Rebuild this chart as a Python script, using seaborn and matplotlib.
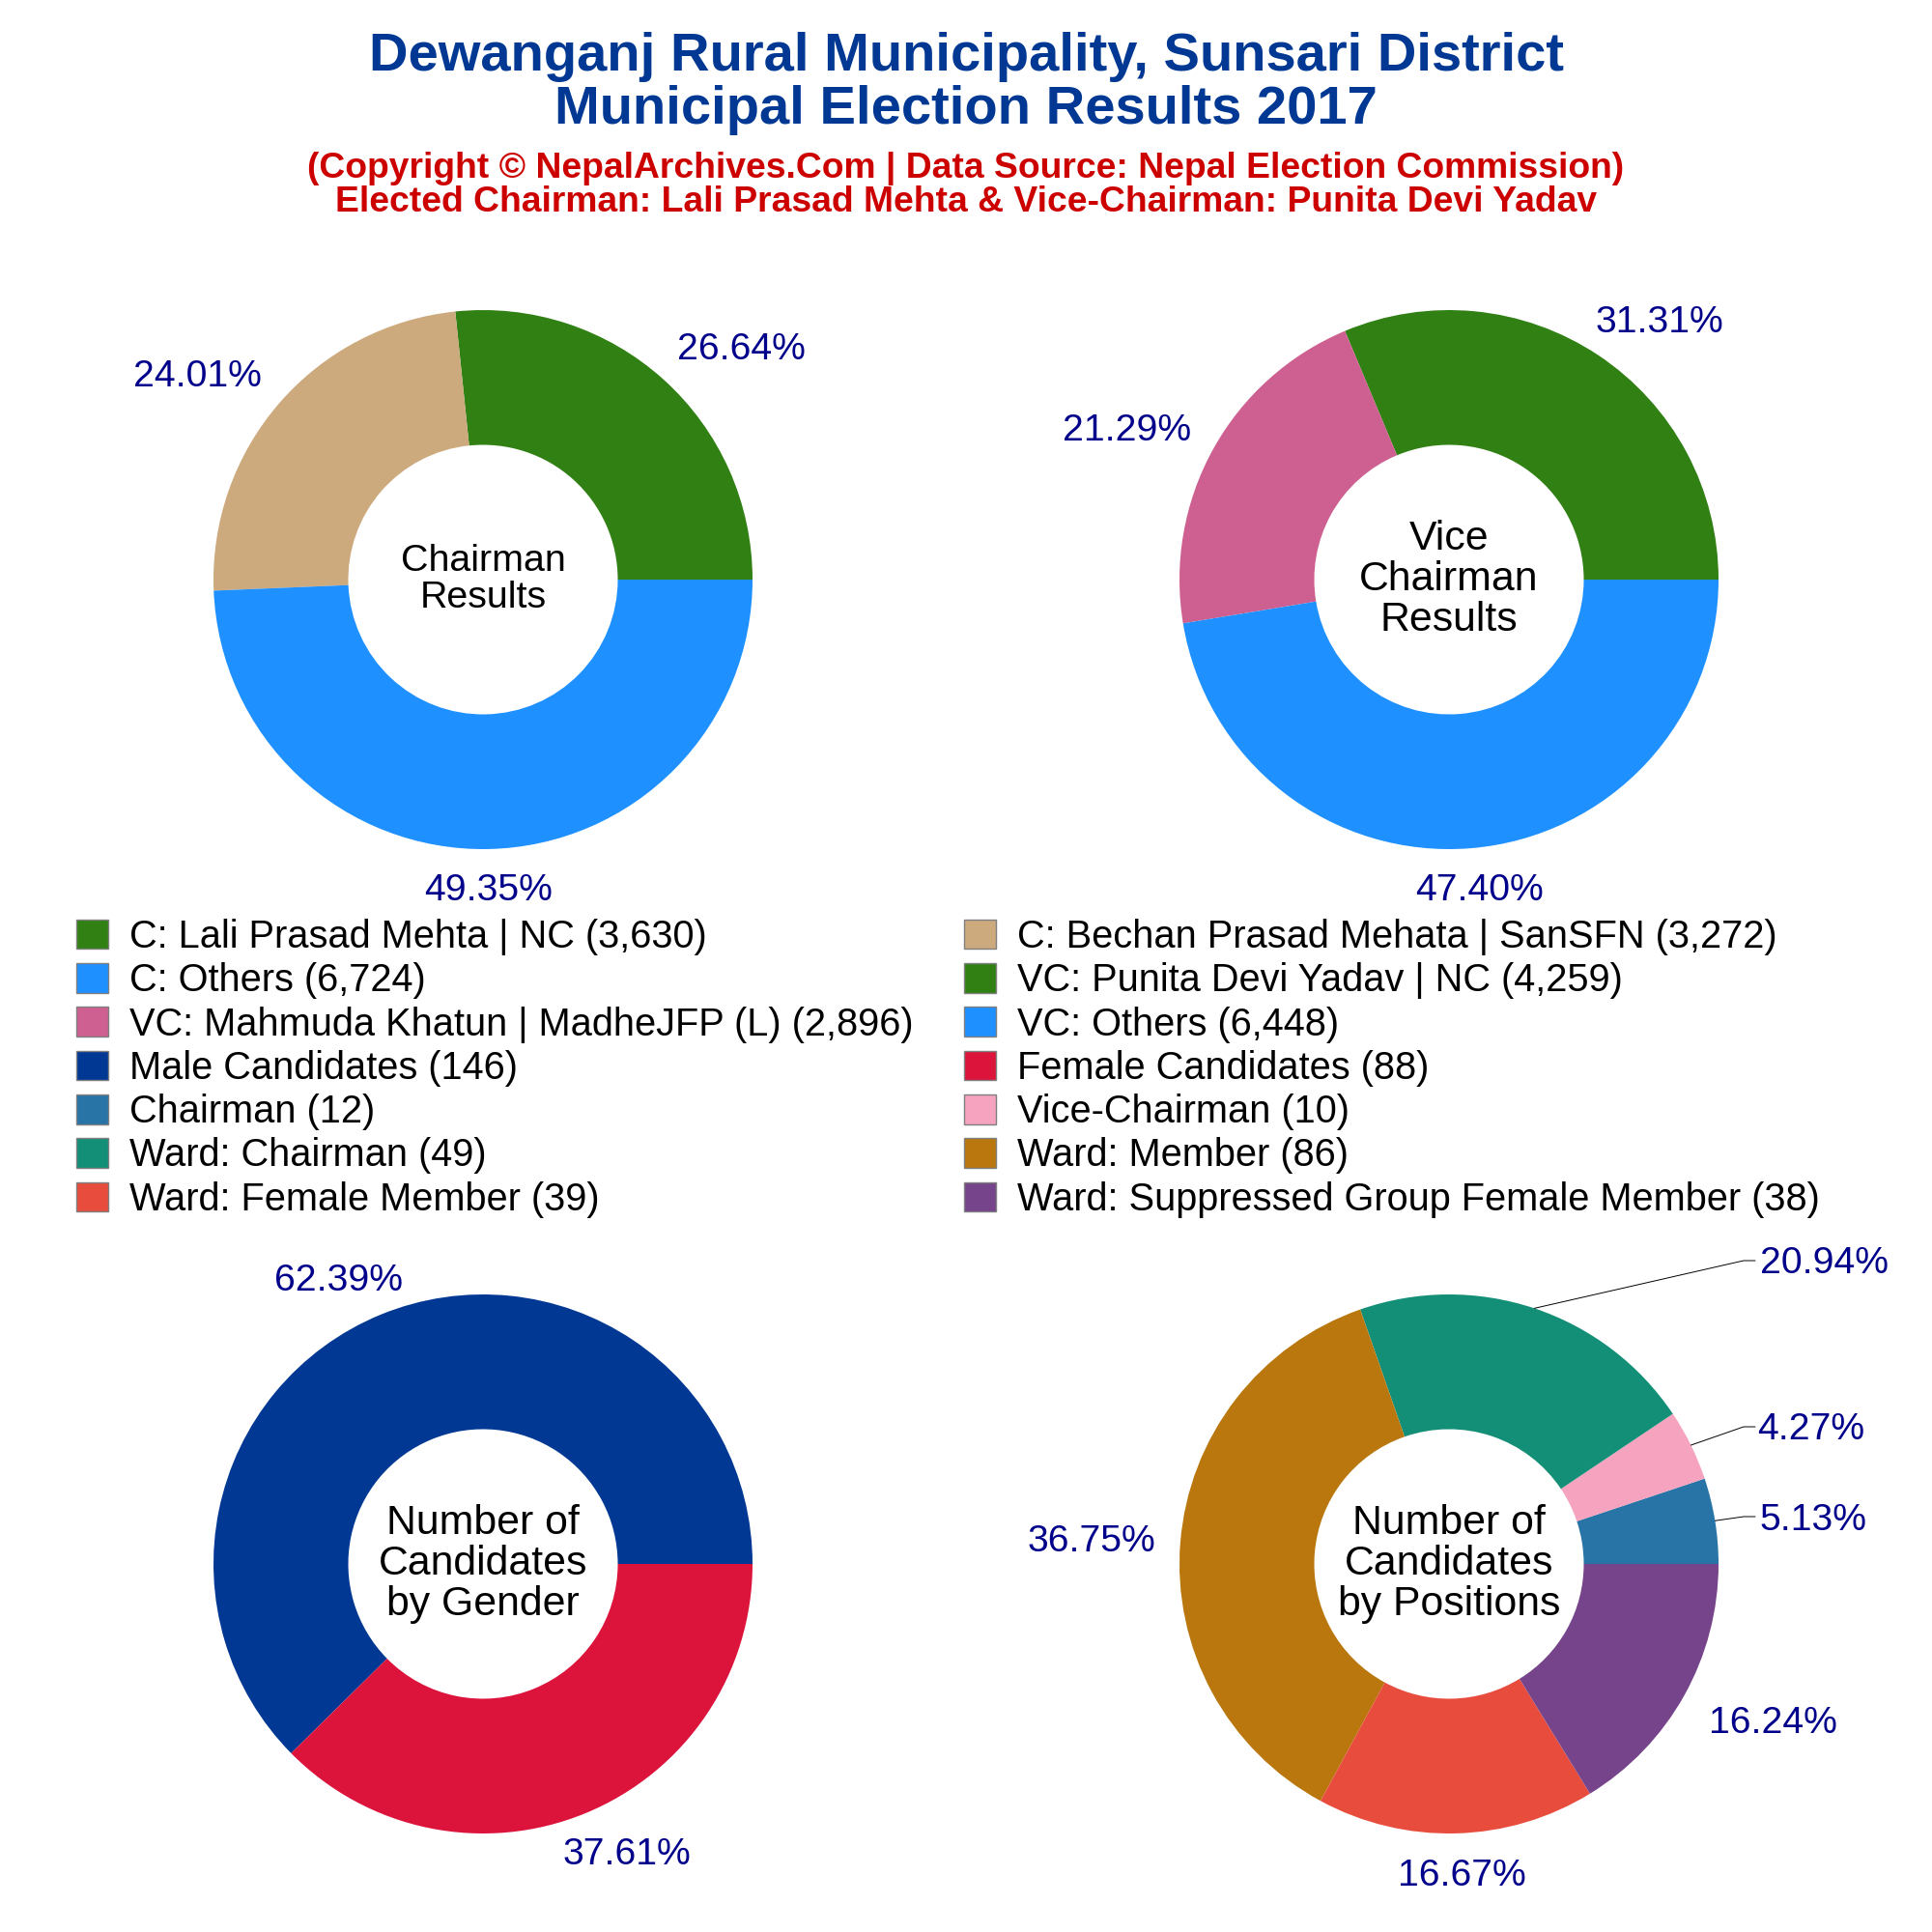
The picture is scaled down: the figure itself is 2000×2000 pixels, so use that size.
import matplotlib
matplotlib.use('Agg')
import matplotlib.pyplot as plt
from matplotlib.patches import Patch
import numpy as np
import seaborn as sns

# datos de cada anillo
chairman_names = ['C: Lali Prasad Mehta | NC', 'C: Bechan Prasad Mehata | SanSFN', 'C: Others']
chairman_votes = [3630, 3272, 6724]
chairman_colors = ['#308014', '#CDAA7D', '#1E90FF']

vice_names = ['VC: Punita Devi Yadav | NC', 'VC: Mahmuda Khatun | MadheJFP (L)', 'VC: Others']
vice_votes = [4259, 2896, 6448]
vice_colors = ['#308014', '#CD6090', '#1E90FF']

gender_names = ['Male Candidates', 'Female Candidates']
gender_counts = [146, 88]
gender_colors = ['#003893', '#DC143C']

position_names = ['Chairman', 'Vice-Chairman', 'Ward: Chairman', 'Ward: Member',
                  'Ward: Female Member', 'Ward: Suppressed Group Female Member']
position_counts = [12, 10, 49, 86, 39, 38]
position_colors = ['#2874A6', '#F5A3BE', '#148F77', '#B9770E', '#E74C3C', '#76448A']

sns.set_theme(style='white')
plt.rcParams['font.family'] = ['Liberation Sans', 'DejaVu Sans']

SIZE = 2000
RADIUS = 279
LABEL_BLUE = '#00008B'
LABEL_SIZE = 14.1
fig = plt.figure(figsize=(10, 10), dpi=200, facecolor='white')


def ring(cx, cy, values, colors, center_text, center_size, label_spots, line_spacing):
    ax = fig.add_axes([(cx - RADIUS) / SIZE, 1 - (cy + RADIUS) / SIZE,
                       2 * RADIUS / SIZE, 2 * RADIUS / SIZE])
    wedges, _ = ax.pie(values, colors=colors, startangle=0, counterclock=True, radius=1,
                       wedgeprops={'width': 0.5, 'linewidth': 0})
    ax.set_xlim(-1, 1)
    ax.set_ylim(-1, 1)
    ax.text(0, 0, center_text, ha='center', va='center', fontsize=center_size,
            color='black', linespacing=line_spacing)
    total = sum(values)
    for v, (dx, dy) in zip(values, label_spots):
        ax.text(dx / RADIUS, -dy / RADIUS, f'{v / total * 100:.2f}%', ha='center', va='center',
                fontsize=LABEL_SIZE, color=LABEL_BLUE, clip_on=False)
    return ax, wedges


# graficos de arriba
ring(500, 600, chairman_votes, chairman_colors, 'Chairman\nResults', 14.2,
     [(267, -238.5), (-296, -209.5), (6, 322.5)], 1.1)
ring(1500, 600, vice_votes, vice_colors, 'Vice\nChairman\nResults', 15.4,
     [(218, -265.5), (-333, -154.5), (31, 322.5)], 1.06)

# graficos de abajo
ring(500, 1619, gender_counts, gender_colors, 'Number of\nCandidates\nby Gender', 15.4,
     [(-149, -292.5), (149, 301.5)], 1.05)
ax_pos, wedges_pos = ring(1500, 1619, position_counts, position_colors,
                          'Number of\nCandidates\nby Positions', 15.4,
                          [(377, -45.4), (375, -139.4), (388, -311.4), (-370, -22.5), (13, 322.5), (335, 164.5)],
                          1.05)

# lineas guia de las tres etiquetas de la derecha
for w, elbow_y in zip(wedges_pos[:3], [-49, -142, -314]):
    mid = np.deg2rad((w.theta1 + w.theta2) / 2)
    ax_pos.plot([np.cos(mid), 305 / RADIUS, 317 / RADIUS],
                [np.sin(mid), -elbow_y / RADIUS, -elbow_y / RADIUS],
                color='black', lw=0.35, clip_on=False)

# leyenda: matplotlib llena por columnas
legend_names = ['C: Lali Prasad Mehta | NC', 'C: Others', 'VC: Mahmuda Khatun | MadheJFP (L)',
                'Male Candidates', 'Chairman', 'Ward: Chairman', 'Ward: Female Member',
                'C: Bechan Prasad Mehata | SanSFN', 'VC: Punita Devi Yadav | NC', 'VC: Others',
                'Female Candidates', 'Vice-Chairman', 'Ward: Member',
                'Ward: Suppressed Group Female Member']
lookup = {}
all_names = chairman_names + vice_names + gender_names + position_names
all_values = chairman_votes + vice_votes + gender_counts + position_counts
all_colors = chairman_colors + vice_colors + gender_colors + position_colors
for n, v, c in zip(all_names, all_values, all_colors):
    lookup[n] = (v, c)

handles = [Patch(facecolor=lookup[n][1], edgecolor='#808080', linewidth=0.5) for n in legend_names]
labels = [f'{n} ({lookup[n][0]:,})' for n in legend_names]
LEGEND_SIZE = 14.34
font_px = LEGEND_SIZE * 200 / 72
fig.legend(handles, labels, ncol=2, loc='upper left', bbox_to_anchor=(79 / SIZE, 1 - 951 / SIZE),
           frameon=False, fontsize=LEGEND_SIZE, borderpad=0, borderaxespad=0,
           handlelength=33 / font_px, handleheight=32 / font_px,
           handletextpad=22 / font_px, labelspacing=0.183, columnspacing=1.32,
           labelcolor='black')

# titulos
fig.text(0.5, 1 - 86.5 / SIZE, 'Dewanganj Rural Municipality, Sunsari District\nMunicipal Election Results 2017',
         ha='center', va='center', fontsize=20.2, fontweight='bold', color='#003893', linespacing=1.06)
fig.text(0.5, 1 - 192 / SIZE,
         '(Copyright © NepalArchives.Com | Data Source: Nepal Election Commission)\n'
         'Elected Chairman: Lali Prasad Mehta & Vice-Chairman: Punita Devi Yadav',
         ha='center', va='center', fontsize=13.4, fontweight='bold', color='#CD0000', linespacing=1.03)

fig.savefig('out.png', dpi=200, facecolor='white')
